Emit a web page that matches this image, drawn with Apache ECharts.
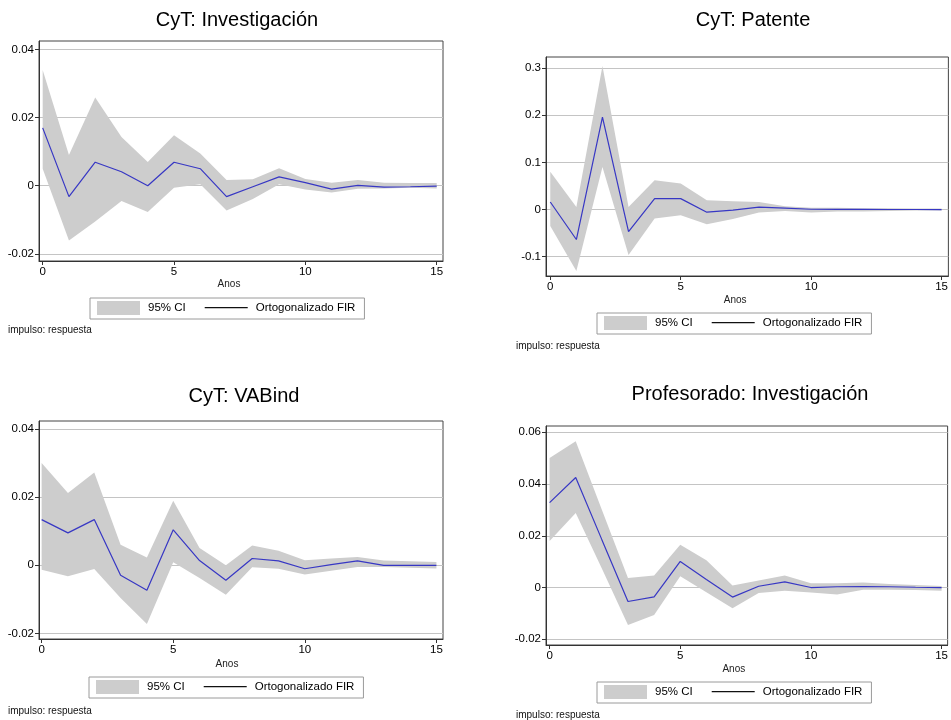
<!DOCTYPE html>
<html>
<head>
<meta charset="utf-8">
<script src="https://cdn.jsdelivr.net/npm/echarts@6/dist/echarts.min.js"></script>
<style>
html,body{margin:0;padding:0;background:#fff;}
#chart{width:951px;height:720px;}
</style>
</head>
<body>
<div id="chart"></div>
<script>
// ---- data ----
const steps = [0, 1, 2, 3, 4, 5, 6, 7, 8, 9, 10, 11, 12, 13, 14, 15];
const xTicks = [0, 5, 10, 15];

const titles = ['CyT: Investigación', 'CyT: Patente', 'CyT: VABind', 'Profesorado: Investigación'];
const xName = 'Anos';
const bandName = '95% CI';
const lineName = 'Ortogonalizado FIR';
const noteText = 'impulso: respuesta';

// CyT: Investigación
const irf1 = [0.0170, -0.0032, 0.0069, 0.0041, 0.0000, 0.0069, 0.0050, -0.0032, -0.0003, 0.0026, 0.0009, -0.0010, 0.0001, -0.0004, -0.0003, -0.0001];
const hi1  = [0.0340, 0.0090, 0.0259, 0.0143, 0.0070, 0.0148, 0.0095, 0.0017, 0.0019, 0.0051, 0.0020, 0.0009, 0.0017, 0.0009, 0.0008, 0.0008];
const lo1  = [0.0050, -0.0161, -0.0105, -0.0045, -0.0077, -0.0006, 0.0004, -0.0073, -0.0039, 0.0004, -0.0011, -0.0020, -0.0009, -0.0008, -0.0006, -0.0008];
const yTicks1 = [-0.02, 0, 0.02, 0.04];

// CyT: Patente
const irf2 = [0.016, -0.0635, 0.196, -0.047, 0.0232, 0.0232, -0.0056, -0.0014, 0.0050, 0.0030, 0.0007, 0.0003, 0.0002, 0.0001, 0.0001, 0.0000];
const hi2  = [0.080, 0.0055, 0.304, 0.0056, 0.062, 0.055, 0.0197, 0.0176, 0.016, 0.007, 0.004, 0.004, 0.003, 0.003, 0.002, 0.002];
const lo2  = [-0.035, -0.130, 0.090, -0.0965, -0.019, -0.012, -0.031, -0.020, -0.006, -0.003, -0.006, -0.004, -0.004, -0.003, -0.002, -0.002];
const yTicks2 = [-0.1, 0, 0.1, 0.2, 0.3];

// CyT: VABind
const irf3 = [0.0134, 0.0095, 0.0134, -0.0029, -0.0073, 0.0104, 0.0014, -0.0044, 0.0020, 0.0013, -0.0010, 0.0002, 0.0013, 0.0000, 0.0000, 0.0000];
const hi3  = [0.0300, 0.0212, 0.0272, 0.0060, 0.0023, 0.0189, 0.0051, 0.0000, 0.0058, 0.0043, 0.0015, 0.0020, 0.0024, 0.0014, 0.0012, 0.0010];
const lo3  = [-0.0013, -0.0032, -0.0011, -0.0096, -0.0172, 0.0009, -0.0037, -0.0086, -0.0006, -0.0010, -0.0027, -0.0016, -0.0005, -0.0005, -0.0007, -0.0009];
const yTicks3 = [-0.02, 0, 0.02, 0.04];

// Profesorado: Investigación
const irf4 = [0.0328, 0.0425, 0.0185, -0.0054, -0.0036, 0.0101, 0.0031, -0.0037, 0.0005, 0.0022, 0.0000, 0.0003, 0.0004, 0.0003, 0.0001, 0.0000];
const hi4  = [0.0500, 0.0565, 0.0300, 0.0037, 0.0046, 0.0165, 0.0105, 0.0008, 0.0027, 0.0046, 0.0017, 0.0017, 0.0019, 0.0014, 0.0010, 0.0006];
const lo4  = [0.0180, 0.0288, 0.0074, -0.0145, -0.0106, 0.0044, -0.0018, -0.0080, -0.0021, -0.0012, -0.0019, -0.0027, -0.0009, -0.0009, -0.0010, -0.0012];
const yTicks4 = [-0.02, 0, 0.02, 0.04, 0.06];

// ---- layout ----
const panels = [
  {irf: irf1, hi: hi1, lo: lo1, yTicks: yTicks1,
   grid: {left: 39, top: 41, width: 404, height: 220},
   x: [-0.14, 15.24], y: [-0.0221, 0.0425],
   title: {x: 237, y: 10}, legend: {x: 90, y: 298}, note: {x: 8, y: 331}, nameGap: 18, nameShift: 24},
  {irf: irf2, hi: hi2, lo: lo2, yTicks: yTicks2,
   grid: {left: 546, top: 57, width: 404, height: 219},
   x: [-0.164, 15.26], y: [-0.1408, 0.3233],
   title: {x: 753, y: 10}, legend: {x: 597, y: 313}, note: {x: 516, y: 347}, nameGap: 19, nameShift: 24},
  {irf: irf3, hi: hi3, lo: lo3, yTicks: yTicks3,
   grid: {left: 39, top: 421, width: 404, height: 218},
   x: [-0.10, 15.25], y: [-0.0216, 0.0423],
   title: {x: 244, y: 386}, legend: {x: 89, y: 677}, note: {x: 8, y: 712}, nameGap: 20, nameShift: 28},
  {irf: irf4, hi: hi4, lo: lo4, yTicks: yTicks4,
   grid: {left: 546, top: 426, width: 403, height: 219},
   x: [-0.137, 15.23], y: [-0.0222, 0.0624],
   title: {x: 750, y: 384}, legend: {x: 597, y: 682}, note: {x: 516, y: 716}, nameGap: 19, nameShift: 26}
];

const FONT = '"Liberation Sans", Arial, Helvetica, sans-serif';
const BAND = '#cdcdcd';
const LINE = '#3737c4';
// thin horizontal line inside a 43x14 box (the moveTo points fix the bounding box)
const LINE_ICON = 'path://M0,0 M43,14 M0,6 L43,6 L43,7.2 L0,7.2 Z';

const option = {
  animation: false,
  backgroundColor: '#ffffff',
  textStyle: {fontFamily: FONT},
  title: [],
  grid: [],
  xAxis: [],
  yAxis: [],
  legend: [],
  series: [],
  graphic: []
};

panels.forEach((p, i) => {
  option.title.push({
    text: titles[i], left: p.title.x, top: p.title.y, textAlign: 'center', padding: 0,
    textStyle: {fontFamily: FONT, fontSize: 20, fontWeight: 'normal', color: '#000'}
  });
  option.grid.push(Object.assign({show: true, borderColor: '#444', borderWidth: 1, backgroundColor: '#fff'}, p.grid));
  option.xAxis.push({
    type: 'value', gridIndex: i, min: p.x[0], max: p.x[1],
    name: xName, nameLocation: 'middle', nameGap: p.nameGap,
    nameTextStyle: {fontSize: 10, color: '#222', fontFamily: FONT, padding: [0, p.nameShift, 0, 0]},
    axisLine: {show: true, onZero: false, lineStyle: {color: '#333', width: 1}},
    axisTick: {show: true, length: 4, customValues: xTicks, lineStyle: {color: '#333'}},
    axisLabel: {customValues: xTicks, margin: 5, fontSize: 11.5, color: '#000', fontFamily: FONT},
    splitLine: {show: false}
  });
  option.yAxis.push({
    type: 'value', gridIndex: i, min: p.y[0], max: p.y[1],
    axisLine: {show: true, onZero: false, lineStyle: {color: '#333', width: 1}},
    axisTick: {show: true, length: 4, customValues: p.yTicks, lineStyle: {color: '#333'}},
    axisLabel: {customValues: p.yTicks, margin: 5, fontSize: 11.5, color: '#000', fontFamily: FONT},
    splitLine: {show: true, lineStyle: {color: '#c4c4c4', width: 1}}
  });
  const hi = p.hi, lo = p.lo;
  option.series.push({
    name: bandName, type: 'custom', xAxisIndex: i, yAxisIndex: i,
    itemStyle: {color: BAND},
    data: steps.map((s, k) => [s, lo[k], hi[k]]),
    encode: {x: 0, y: [1, 2]},
    renderItem: function (params, api) {
      if (params.dataIndex !== 0) return null;
      const pts = [];
      for (let k = 0; k < steps.length; k++) pts.push(api.coord([steps[k], hi[k]]));
      for (let k = steps.length - 1; k >= 0; k--) pts.push(api.coord([steps[k], lo[k]]));
      return {type: 'polygon', shape: {points: pts}, style: {fill: BAND, stroke: null}, silent: true};
    },
    z: 2
  });
  option.series.push({
    name: lineName, type: 'line', xAxisIndex: i, yAxisIndex: i,
    data: steps.map((s, k) => [s, p.irf[k]]),
    symbol: 'none', showSymbol: false,
    lineStyle: {color: LINE, width: 1.2},
    itemStyle: {color: LINE},
    z: 3
  });
  option.legend.push({
    left: p.legend.x, top: p.legend.y, orient: 'horizontal',
    padding: [3, 9, 4, 7], itemGap: 19, itemWidth: 43, itemHeight: 14,
    borderColor: '#9a9a9a', borderWidth: 1, borderRadius: 0,
    selectedMode: false,
    textStyle: {fontSize: 11.5, color: '#000', fontFamily: FONT, padding: [0, 0, 0, 3]},
    data: [
      {name: bandName, icon: 'rect', itemStyle: {color: BAND}},
      {name: lineName, icon: LINE_ICON, itemStyle: {color: '#111'}}
    ]
  });
  option.graphic.push({
    type: 'text', left: p.note.x, top: p.note.y - 6,
    style: {text: noteText, fontSize: 10, fontFamily: FONT, fill: '#111'}
  });
});

const chart = echarts.init(document.getElementById('chart'), null, {renderer: 'canvas'});
chart.setOption(option);
</script>
</body>
</html>
